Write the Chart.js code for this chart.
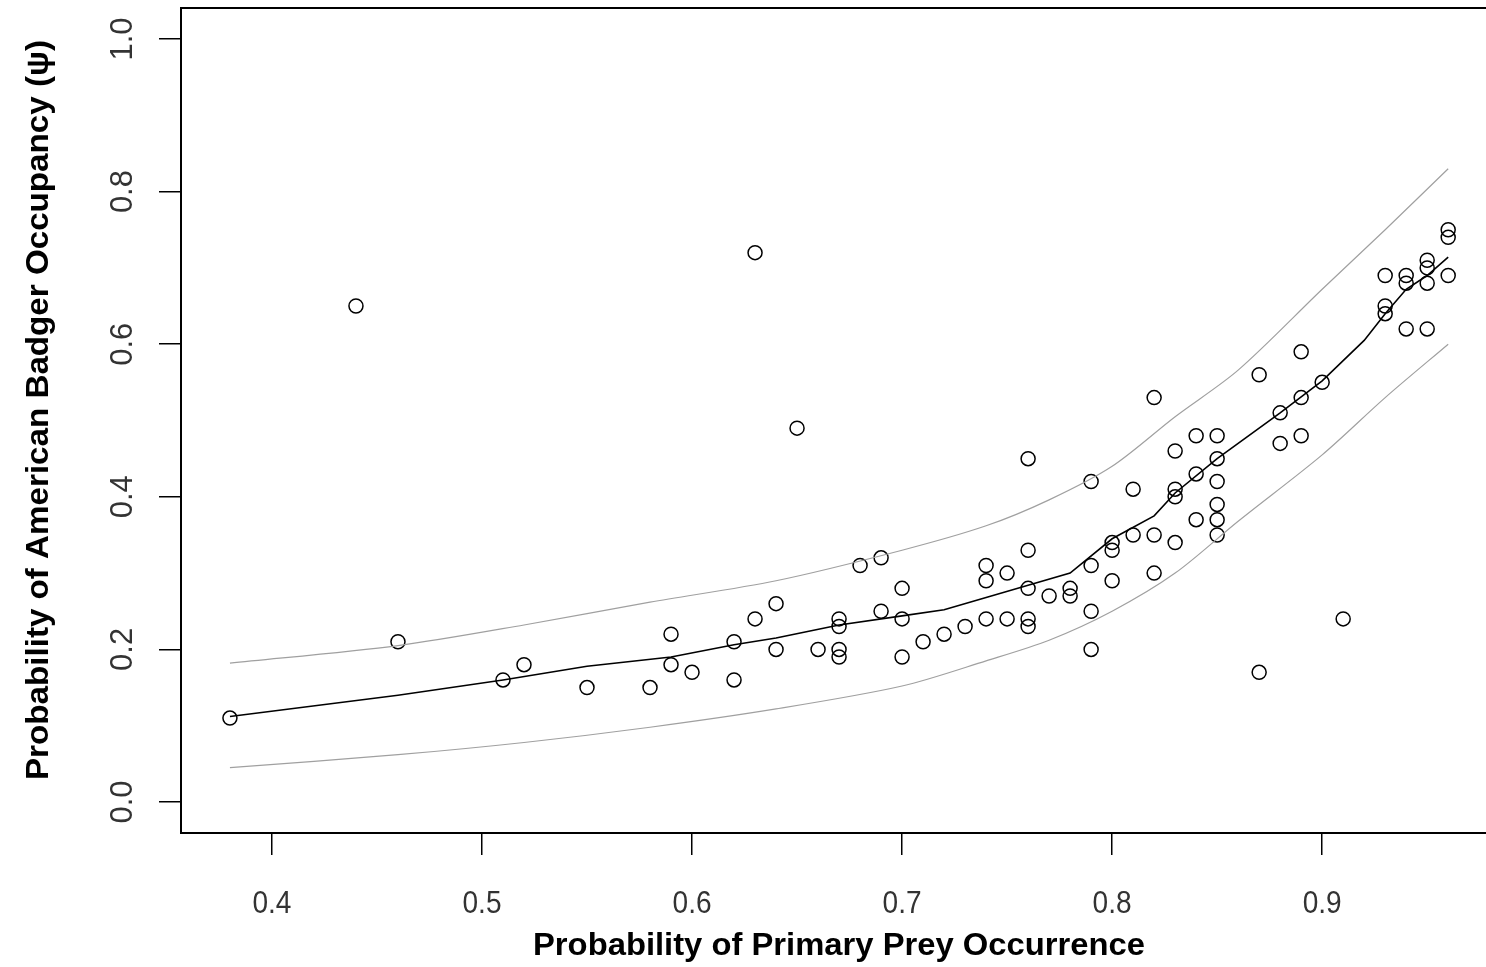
<!DOCTYPE html>
<html>
<head>
<meta charset="utf-8">
<title>Badger occupancy vs prey occurrence</title>
<script src="https://cdn.jsdelivr.net/npm/chart.js@4.4.1/dist/chart.umd.min.js"></script>
<style>
    html, body { margin: 0; padding: 0; background: #fff; }
    canvas { display: block; }
</style>
</head>
<body>
<canvas id="occupancyChart" width="1486" height="967"></canvas>
<script>
// tick labels
const xTicks = [0.4, 0.5, 0.6, 0.7, 0.8, 0.9];
const yTicks = [0.0, 0.2, 0.4, 0.6, 0.8, 1.0];

// observed sites: prey occurrence vs badger occupancy
const preyOccurrence = [
    0.38, 0.44, 0.46, 0.51, 0.52, 0.55, 0.58, 0.59, 0.59, 0.60,
    0.62, 0.62, 0.63, 0.63, 0.64, 0.64, 0.65, 0.66, 0.67, 0.67,
    0.67, 0.67, 0.68, 0.69, 0.69, 0.70, 0.70, 0.70, 0.71, 0.72,
    0.73, 0.74, 0.74, 0.74, 0.75, 0.75, 0.76, 0.76, 0.76, 0.76,
    0.76, 0.77, 0.78, 0.78, 0.79, 0.79, 0.79, 0.79, 0.80, 0.80,
    0.80, 0.81, 0.81, 0.82, 0.82, 0.82, 0.83, 0.83, 0.83, 0.83,
    0.84, 0.84, 0.84, 0.85, 0.85, 0.85, 0.85, 0.85, 0.85, 0.87,
    0.87, 0.88, 0.88, 0.89, 0.89, 0.89, 0.90, 0.91, 0.93, 0.93,
    0.93, 0.94, 0.94, 0.94, 0.95, 0.95, 0.95, 0.95, 0.96, 0.96,
    0.96
];
const badgerOccupancy = [
    0.11, 0.65, 0.21, 0.16, 0.18, 0.15, 0.15, 0.22, 0.18, 0.17,
    0.21, 0.16, 0.72, 0.24, 0.26, 0.20, 0.49, 0.20, 0.24, 0.23,
    0.20, 0.19, 0.31, 0.32, 0.25, 0.28, 0.24, 0.19, 0.21, 0.22,
    0.23, 0.31, 0.29, 0.24, 0.30, 0.24, 0.45, 0.33, 0.28, 0.24,
    0.23, 0.27, 0.28, 0.27, 0.42, 0.31, 0.25, 0.20, 0.34, 0.33,
    0.29, 0.41, 0.35, 0.53, 0.35, 0.30, 0.46, 0.41, 0.40, 0.34,
    0.48, 0.43, 0.37, 0.48, 0.45, 0.42, 0.39, 0.37, 0.35, 0.56,
    0.17, 0.51, 0.47, 0.59, 0.53, 0.48, 0.55, 0.24, 0.69, 0.65,
    0.64, 0.69, 0.68, 0.62, 0.71, 0.70, 0.68, 0.62, 0.75, 0.74,
    0.69
];

// fitted occupancy curve
const fitX = [0.38, 0.46, 0.51, 0.55, 0.59, 0.62, 0.64, 0.67, 0.70, 0.72, 0.74, 0.76, 0.78,
              0.80, 0.82, 0.83, 0.85, 0.88, 0.90, 0.92, 0.93, 0.94, 0.95, 0.96];
const fitY = [0.112, 0.140, 0.160, 0.178, 0.190, 0.206, 0.215, 0.232, 0.244, 0.252, 0.268, 0.284, 0.300,
              0.345, 0.375, 0.405, 0.450, 0.510, 0.552, 0.605, 0.640, 0.672, 0.690, 0.714];

// confidence band
const ciX = [0.38, 0.46, 0.52, 0.58, 0.64, 0.70, 0.74, 0.77, 0.80, 0.83, 0.86, 0.90, 0.93, 0.96];
const upperY = [0.182, 0.205, 0.232, 0.262, 0.290, 0.330, 0.362, 0.396, 0.440, 0.505, 0.566, 0.672, 0.750, 0.830];
const lowerY = [0.045, 0.062, 0.078, 0.098, 0.122, 0.152, 0.185, 0.212, 0.250, 0.300, 0.368, 0.455, 0.530, 0.600];

document.addEventListener('DOMContentLoaded', function() {

    function pairs(xs, ys) {
        return xs.map((x, i) => ({ x: x, y: ys[i] }));
    }

    // draws text squeezed to a target width
    function fitText(ctx, text, targetWidth) {
        const w = ctx.measureText(text).width;
        const s = targetWidth ? targetWidth / w : 1;
        ctx.scale(s, 1);
        ctx.fillText(text, 0, 0);
    }

    const labelPlugin = {
        id: 'rLabels',
        afterDraw(chart) {
            const ctx = chart.ctx;
            const xScale = chart.scales.x;
            const yScale = chart.scales.y;
            const area = chart.chartArea;

            // top frame line
            ctx.save();
            ctx.strokeStyle = '#000';
            ctx.lineWidth = 2;
            ctx.beginPath();
            ctx.moveTo(area.left, area.top);
            ctx.lineTo(area.right, area.top);
            ctx.stroke();
            ctx.restore();

            // x tick labels
            ctx.save();
            ctx.fillStyle = '#333';
            ctx.font = '32px "Liberation Sans", Arial, sans-serif';
            ctx.textAlign = 'center';
            ctx.textBaseline = 'alphabetic';
            xTicks.forEach(v => {
                ctx.save();
                ctx.translate(xScale.getPixelForValue(v), 913);
                fitText(ctx, v.toFixed(1), 39);
                ctx.restore();
            });
            // y tick labels, rotated
            yTicks.forEach(v => {
                ctx.save();
                ctx.translate(132, yScale.getPixelForValue(v));
                ctx.rotate(-Math.PI / 2);
                fitText(ctx, v.toFixed(1), 43);
                ctx.restore();
            });
            ctx.restore();

            // axis titles
            ctx.save();
            ctx.fillStyle = '#000';
            ctx.font = 'bold 32px "Liberation Sans", Arial, sans-serif';
            ctx.textAlign = 'center';
            ctx.textBaseline = 'alphabetic';
            ctx.save();
            ctx.translate(839, 955);
            fitText(ctx, 'Probability of Primary Prey Occurrence', 612);
            ctx.restore();
            ctx.save();
            ctx.translate(48, 410);
            ctx.rotate(-Math.PI / 2);
            fitText(ctx, 'Probability of American Badger Occupancy (\u03C8)', 740);
            ctx.restore();
            ctx.restore();
        }
    };

    function drawOccupancyChart() {
        const ctx = document.getElementById('occupancyChart').getContext('2d');
        new Chart(ctx, {
            type: 'scatter',
            data: {
                datasets: [
                    {
                        label: 'Upper CI',
                        data: pairs(ciX, upperY),
                        showLine: true,
                        borderColor: '#a0a0a0',
                        borderWidth: 1.2,
                        pointRadius: 0,
                        tension: 0.3
                    },
                    {
                        label: 'Lower CI',
                        data: pairs(ciX, lowerY),
                        showLine: true,
                        borderColor: '#a0a0a0',
                        borderWidth: 1.2,
                        pointRadius: 0,
                        tension: 0.3
                    },
                    {
                        label: 'Fitted',
                        data: pairs(fitX, fitY),
                        showLine: true,
                        borderColor: '#000',
                        borderWidth: 1.6,
                        pointRadius: 0
                    },
                    {
                        label: 'Sites',
                        data: pairs(preyOccurrence, badgerOccupancy),
                        pointStyle: 'circle',
                        pointRadius: 7,
                        pointBorderWidth: 1.5,
                        borderColor: '#000',
                        backgroundColor: 'rgba(0,0,0,0)'
                    }
                ]
            },
            options: {
                responsive: false,
                animation: false,
                devicePixelRatio: 1,
                layout: { autoPadding: false, padding: { top: 8, right: 0, left: 0, bottom: 0 } },
                plugins: {
                    legend: { display: false },
                    tooltip: { enabled: false }
                },
                scales: {
                    x: {
                        type: 'linear',
                        min: 0.3567,
                        max: 0.978,
                        afterBuildTicks: scale => { scale.ticks = xTicks.map(v => ({ value: v })); },
                        afterFit: scale => { scale.height = 134; },
                        ticks: { display: false },
                        grid: { drawOnChartArea: false, drawTicks: true, tickLength: 22, color: '#000', lineWidth: 1.5 },
                        border: { display: true, color: '#000', width: 2 }
                    },
                    y: {
                        type: 'linear',
                        min: -0.0406,
                        max: 1.0406,
                        afterBuildTicks: scale => { scale.ticks = yTicks.map(v => ({ value: v })); },
                        afterFit: scale => { scale.width = 181; },
                        ticks: { display: false },
                        grid: { drawOnChartArea: false, drawTicks: true, tickLength: 22, color: '#000', lineWidth: 1.5 },
                        border: { display: true, color: '#000', width: 2 }
                    }
                }
            },
            plugins: [labelPlugin]
        });
    }

    drawOccupancyChart();
});
</script>
</body>
</html>
